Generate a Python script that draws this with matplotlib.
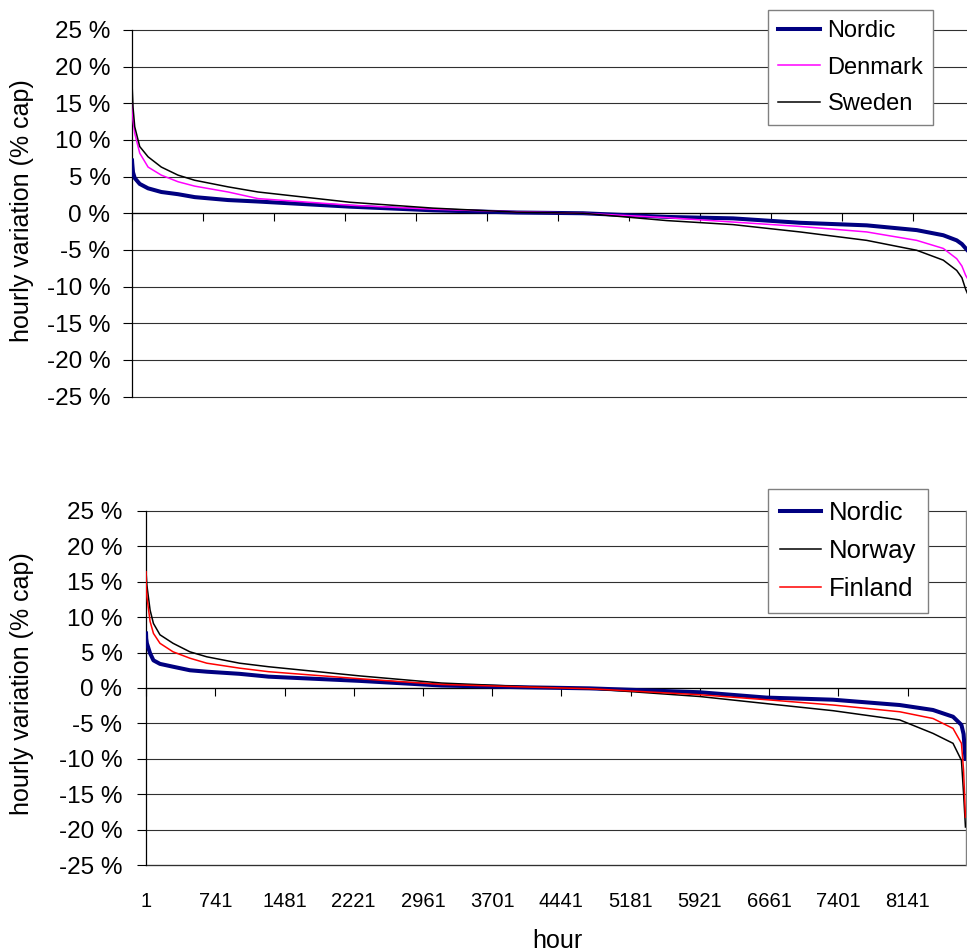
import matplotlib
matplotlib.use("Agg")
import matplotlib.pyplot as plt
from matplotlib.ticker import FuncFormatter

plt.rcParams['font.family'] = ['Liberation Sans', 'DejaVu Sans']

# ---------------- data ----------------
hours_top = [1, 3, 11, 29, 81, 168, 306, 480, 654, 1002, 1314, 2273, 3138, 4013,
             4701, 5574, 6265, 6963, 7658, 8179, 8456, 8596, 8650, 8690, 8760]
nordic_top = [7.2, 6.8, 5.6, 4.8, 4.0, 3.4, 2.9, 2.6, 2.2, 1.8, 1.6, 0.9, 0.4, 0.1,
              0.0, -0.5, -0.7, -1.3, -1.65, -2.3, -3.0, -3.7, -4.2, -4.8, -5.8]
denmark_top = [17.0, 15.0, 12.7, 10.9, 8.2, 6.3, 5.2, 4.3, 3.7, 2.9, 2.0, 1.1, 0.55, 0.2,
               0.0, -0.6, -1.2, -1.8, -2.55, -3.7, -4.8, -6.2, -7.2, -8.5, -10.0]
sweden_top = [25.0, 17.0, 14.5, 11.8, 9.1, 7.7, 6.3, 5.2, 4.5, 3.6, 2.9, 1.5, 0.7, 0.15,
              0.0, -1.0, -1.55, -2.55, -3.7, -5.05, -6.4, -7.8, -8.8, -10.4, -12.5]

hours_bot = [1, 3, 10, 44, 80, 150, 290, 470, 650, 1000, 1310, 2290, 3160, 4040,
             4740, 5920, 6630, 7345, 8057, 8413, 8627, 8717, 8740, 8760]
nordic_bot = [7.7, 7.0, 6.3, 4.9, 3.9, 3.4, 3.0, 2.5, 2.3, 2.0, 1.6, 1.0, 0.35, 0.1,
              -0.05, -0.6, -1.35, -1.65, -2.4, -3.1, -4.05, -5.2, -6.5, -10.0]
norway_bot = [18.5, 16.0, 14.5, 11.0, 9.1, 7.5, 6.3, 5.1, 4.4, 3.5, 3.0, 1.7, 0.7, 0.2,
              -0.1, -1.2, -2.2, -3.2, -4.5, -6.4, -7.8, -10.2, -14.9, -19.6]
finland_bot = [16.4, 14.5, 12.9, 9.4, 7.7, 6.3, 5.1, 4.2, 3.5, 2.8, 2.3, 1.3, 0.5, 0.15,
               -0.1, -0.95, -1.65, -2.4, -3.35, -4.3, -5.7, -7.8, -11.6, -18.2]

tick_hours = [1, 741, 1481, 2221, 2961, 3701, 4441, 5181, 5921, 6661, 7401, 8141]
tick_labels = [str(h) for h in tick_hours]
y_ticks = [-25, -20, -15, -10, -5, 0, 5, 10, 15, 20, 25]

ylabel = "hourly variation (% cap)"
xlabel = "hour"

# ---------------- figure ----------------
W, H = 967, 952
fig = plt.figure(figsize=(W / 100, H / 100), dpi=100)
FS_X = 14.5     # x tick labels
FS_Y = 17.5     # y tick labels
FS_L1 = 17.0    # top legend
FS_L2 = 18.5    # bottom legend
FS_T = 18.0     # axis titles

def fx(px):
    return px / W

def fy(py):
    return 1 - py / H

ax1 = fig.add_axes([fx(132), fy(396.5), fx(972.5 - 132), fy(30) - fy(396.5)])
ax2 = fig.add_axes([fx(146), fy(865.3), fx(965.5 - 146), fy(510.7) - fy(865.3)])

pct = FuncFormatter(lambda v, p: f"{int(v)} %")


def style_axes(ax, right_visible, ypad):
    ax.set_xlim(0.5, 8760.5)
    ax.set_ylim(-25, 25)
    ax.set_yticks(y_ticks)
    ax.yaxis.set_major_formatter(pct)
    ax.tick_params(axis='y', direction='out', length=6.5, width=0.8,
                   color='black', labelsize=FS_Y, pad=ypad)
    for yv in y_ticks:
        ax.axhline(yv, color='#303030', lw=0.8, zorder=1, clip_on=False)
    ax.spines['left'].set_color('black')
    ax.spines['left'].set_linewidth(0.9)
    ax.spines['top'].set_visible(False)
    ax.spines['right'].set_visible(right_visible)
    ax.spines['right'].set_color('#808080')
    ax.spines['right'].set_linewidth(1.0)
    # x-axis crossing at 0 with downward tick marks
    ax.spines['bottom'].set_position(('data', 0))
    ax.spines['bottom'].set_color('black')
    ax.spines['bottom'].set_linewidth(0.9)
    ax.set_xticks(tick_hours)
    ax.tick_params(axis='x', direction='out', length=6, width=0.8,
                   color='black', labelbottom=False)


style_axes(ax1, False, 9)
style_axes(ax2, True, 10.5)

# top chart lines
ax1.plot(hours_top, nordic_top, color='#000080', lw=2.9, label='Nordic', zorder=3)
ax1.plot(hours_top, denmark_top, color='#FF00FF', lw=1.1, label='Denmark', zorder=4)
ax1.plot(hours_top, sweden_top, color='black', lw=1.1, label='Sweden', zorder=5)

# bottom chart lines
ax2.plot(hours_bot, nordic_bot, color='#000080', lw=2.9, label='Nordic', zorder=3)
ax2.plot(hours_bot, norway_bot, color='black', lw=1.1, label='Norway', zorder=4)
ax2.plot(hours_bot, finland_bot, color='#FF0000', lw=1.1, label='Finland', zorder=5)

# bottom tick labels at the lower edge of the plot area
sec = ax2.secondary_xaxis('bottom')
sec.set_xticks(tick_hours)
sec.set_xticklabels(tick_labels)
sec.tick_params(axis='x', length=0, labelsize=FS_X, pad=19)
sec.spines['bottom'].set_color('#808080')
sec.spines['bottom'].set_linewidth(1.0)

# y labels and x label
fig.text(fx(22), fy(211), ylabel, rotation=90, ha='center', va='center', fontsize=FS_T)
fig.text(fx(22), fy(684), ylabel, rotation=90, ha='center', va='center', fontsize=FS_T)
fig.text(fx(557), fy(941), xlabel, ha='center', va='center', fontsize=FS_T)

# legends
common = dict(loc='upper left', frameon=True, fancybox=False, borderaxespad=0,
              bbox_transform=fig.transFigure)
l1 = ax1.legend(bbox_to_anchor=(fx(768), fy(10)), fontsize=FS_L1,
                handlelength=1.8, handletextpad=0.3, labelspacing=0.62,
                borderpad=0.42, **common)
l2 = ax2.legend(bbox_to_anchor=(fx(768), fy(489)), fontsize=FS_L2,
                handlelength=1.62, handletextpad=0.3, labelspacing=0.56,
                borderpad=0.45, **common)
for lg in (l1, l2):
    fr = lg.get_frame()
    fr.set_edgecolor('#808080')
    fr.set_linewidth(1.0)
    fr.set_alpha(1)
    lg.set_zorder(10)

fig.savefig("out.png", dpi=100)
